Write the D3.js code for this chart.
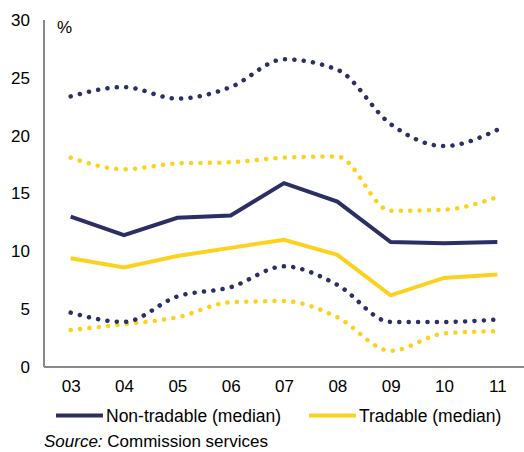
<!DOCTYPE html>
<html>
<head>
<meta charset="utf-8">
<script src="https://cdn.jsdelivr.net/npm/d3@7"></script>
<style>
  body { margin: 0; background: #fff; }
  text { font-family: "Liberation Sans", Arial, sans-serif; fill: #000; }
</style>
</head>
<body>
<div id="the_board"></div>
<script>
// years on the x axis
var years = ["03", "04", "05", "06", "07", "08", "09", "10", "11"];

// medians
var nonTradable = [13.0, 11.4, 12.9, 13.1, 15.9, 14.3, 10.8, 10.7, 10.8];
var tradable = [9.4, 8.6, 9.6, 10.3, 11.0, 9.7, 6.2, 7.7, 8.0];

// upper / lower bounds (dotted)
var nonTradableHigh = [23.4, 24.2, 23.2, 24.2, 26.6, 25.7, 21.0, 19.1, 20.5];
var nonTradableLow = [4.7, 3.9, 6.1, 6.9, 8.7, 7.1, 3.9, 3.9, 4.1];
var tradableHigh = [18.1, 17.1, 17.6, 17.7, 18.1, 18.2, 13.5, 13.6, 14.7];
var tradableLow = [3.2, 3.7, 4.3, 5.6, 5.7, 4.3, 1.4, 2.9, 3.1];

var yTicks = [0, 5, 10, 15, 20, 25, 30];

var navy = "#2b2f64",
  yellow = "#fdd21f";

var margin = { top: 20, right: 0, bottom: 85, left: 44 },
  width_board = 524 - margin.left - margin.right,
  height_board = 452 - margin.top - margin.bottom;

var svg_board = d3.select("#the_board")
  .append("svg")
  .attr("width", 524)
  .attr("height", 452);

var g = svg_board.append("g")
  .attr("transform", "translate(" + margin.left + "," + margin.top + ")");

var x = d3.scalePoint()
  .domain(years)
  .range([0, width_board])
  .padding(0.5);

var y = d3.scaleLinear()
  .domain([0, 30])
  .range([height_board, 0]);

// axes
var yAxis = g.append("g")
  .call(d3.axisLeft(y).tickValues(yTicks).tickSize(0).tickPadding(14));
var xAxis = g.append("g")
  .attr("transform", "translate(0," + height_board + ")")
  .call(d3.axisBottom(x).tickSize(0).tickPadding(13));

[yAxis, xAxis].forEach(function(a) {
  a.select(".domain").attr("stroke", "#898989").attr("stroke-width", 2);
  a.selectAll("text").style("font-size", "17px").attr("fill", "#000");
});
xAxis.select(".domain").attr("d", "M0,0H" + width_board);
yAxis.select(".domain").attr("d", "M0," + height_board + "V0");

g.append("text")
  .attr("x", 13)
  .attr("y", 13)
  .style("font-size", "17px")
  .text("%");

var smooth = d3.line()
  .x(function(d, i) { return x(years[i]); })
  .y(function(d) { return y(d); })
  .curve(d3.curveMonotoneX);

var straight = d3.line()
  .x(function(d, i) { return x(years[i]); })
  .y(function(d) { return y(d); });

var dotted = [
  { data: tradableHigh, color: yellow },
  { data: tradableLow, color: yellow },
  { data: nonTradableHigh, color: navy },
  { data: nonTradableLow, color: navy }
];

g.selectAll(".dots")
  .data(dotted)
  .enter()
  .append("path")
  .attr("class", "dots")
  .attr("d", function(d) { return smooth(d.data); })
  .attr("fill", "none")
  .attr("stroke", function(d) { return d.color; })
  .attr("stroke-width", 4.5)
  .attr("stroke-linecap", "round")
  .attr("stroke-dasharray", "0.1 9.3");

var solid = [
  { data: tradable, color: yellow },
  { data: nonTradable, color: navy }
];

g.selectAll(".med")
  .data(solid)
  .enter()
  .append("path")
  .attr("class", "med")
  .attr("d", function(d) { return straight(d.data); })
  .attr("fill", "none")
  .attr("stroke", function(d) { return d.color; })
  .attr("stroke-width", 4);

// legend
var legend = [
  { label: "Non-tradable (median)", color: navy, x: 56 },
  { label: "Tradable (median)", color: yellow, x: 309 }
];

var lg = svg_board.selectAll(".legend")
  .data(legend)
  .enter()
  .append("g")
  .attr("class", "legend")
  .attr("transform", function(d) { return "translate(" + d.x + ",415.5)"; });

lg.append("line")
  .attr("x1", 0)
  .attr("x2", 47)
  .attr("stroke", function(d) { return d.color; })
  .attr("stroke-width", 4);

lg.append("text")
  .attr("x", 50)
  .attr("y", 6)
  .style("font-size", "17.5px")
  .text(function(d) { return d.label; });

// source note
var src = svg_board.append("text")
  .attr("x", 44)
  .attr("y", 447)
  .style("font-size", "17px");
src.append("tspan").style("font-style", "italic").text("Source:");
src.append("tspan").text(" Commission services");
</script>
</body>
</html>
